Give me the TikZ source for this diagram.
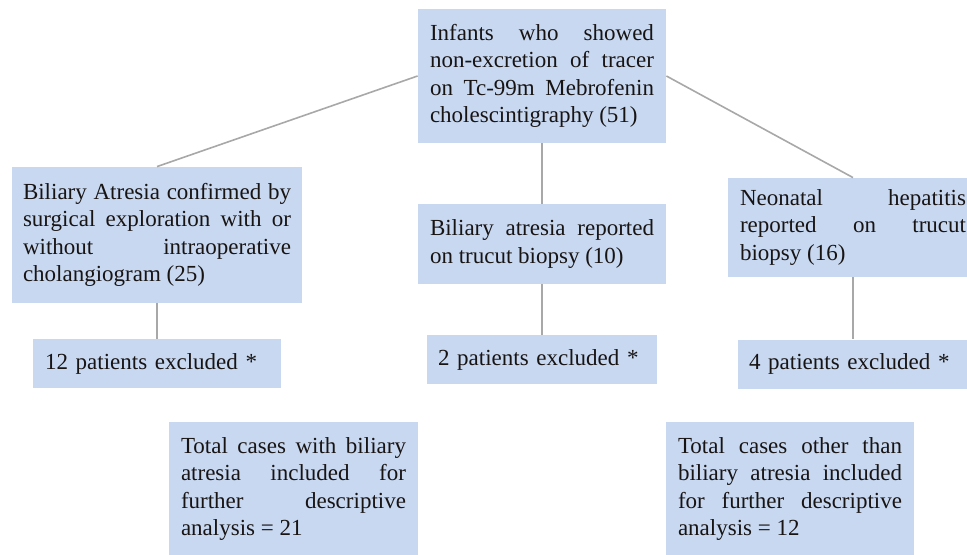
\documentclass[tikz,border=0pt]{standalone}
\usepackage{fontspec}
\setmainfont{Liberation Serif}
\usepackage{tikz}
\definecolor{boxblue}{RGB}{199,216,240}
\definecolor{linegray}{RGB}{168,168,168}
\definecolor{inkdark}{RGB}{25,20,20}
\hyphenpenalty=10000
\tikzset{
  flowbox/.style={fill=boxblue, text=inkdark, inner xsep=6pt, inner ysep=0pt, align=justify,
    font=\fontsize{11.5}{13.75}\selectfont},
  exbox/.style={flowbox, align=left, minimum height=24.5pt},
  link/.style={draw=linegray, line width=0.8pt}
}
\begin{document}
\begin{tikzpicture}[x=0.5pt,y=-0.5pt]
                \useasboundingbox (0,0) rectangle (967,555);
                \clip (0,0) rectangle (967,555);
                \node [flowbox, text width=112pt, minimum height=67pt] (top) at (542,76)
                    {Infants who showed\linebreak non-excretion of tracer\linebreak on Tc-99m Mebrofenin\linebreak cholescintigraphy (51)};
                \node [flowbox, inner xsep=5.5pt, text width=134pt, minimum height=68pt] (ba) at (157,235)
                    {Biliary Atresia confirmed by\linebreak surgical exploration with or\linebreak without intraoperative\linebreak cholangiogram (25)};
                \node [flowbox, text width=112pt, minimum height=40pt] (trucut) at (542,244)
                    {Biliary atresia reported\linebreak on trucut biopsy (10)};
                \node [flowbox, text width=113pt, minimum height=49.5pt] (nh) at (853,227.5)
                    {Neonatal hepatitis\linebreak reported on trucut\linebreak biopsy (16)};
                \node [exbox, text width=112pt] (exa) at (157,363.5) {12 patients excluded *};
                \node [exbox, inner xsep=5.5pt, text width=104pt] (exb) at (542,359.5) {2 patients excluded *};
                \node [exbox, inner xsep=5.5pt, text width=104pt] (exc) at (853,364) {4 patients excluded *};
                \node [flowbox, text width=112.5pt, minimum height=67pt] (totba) at (293.5,489)
                    {Total cases with biliary\linebreak atresia included for\linebreak further descriptive\linebreak analysis = 21};
                \node [flowbox, text width=112pt, minimum height=67pt] (totoh) at (790,489)
                    {Total cases other than\linebreak biliary atresia included\linebreak for further descriptive\linebreak analysis = 12};
                \draw [link] (top.west) -- (ba.north);
                \draw [link] (top.south) -- (trucut.north);
                \draw [link] (top.east) -- (nh.north);
                \draw [link] (ba.south) -- (exa.north);
                \draw [link] (trucut.south) -- (exb.north);
                \draw [link] (nh.south) -- (exc.north);
            \end{tikzpicture}
\end{document}
